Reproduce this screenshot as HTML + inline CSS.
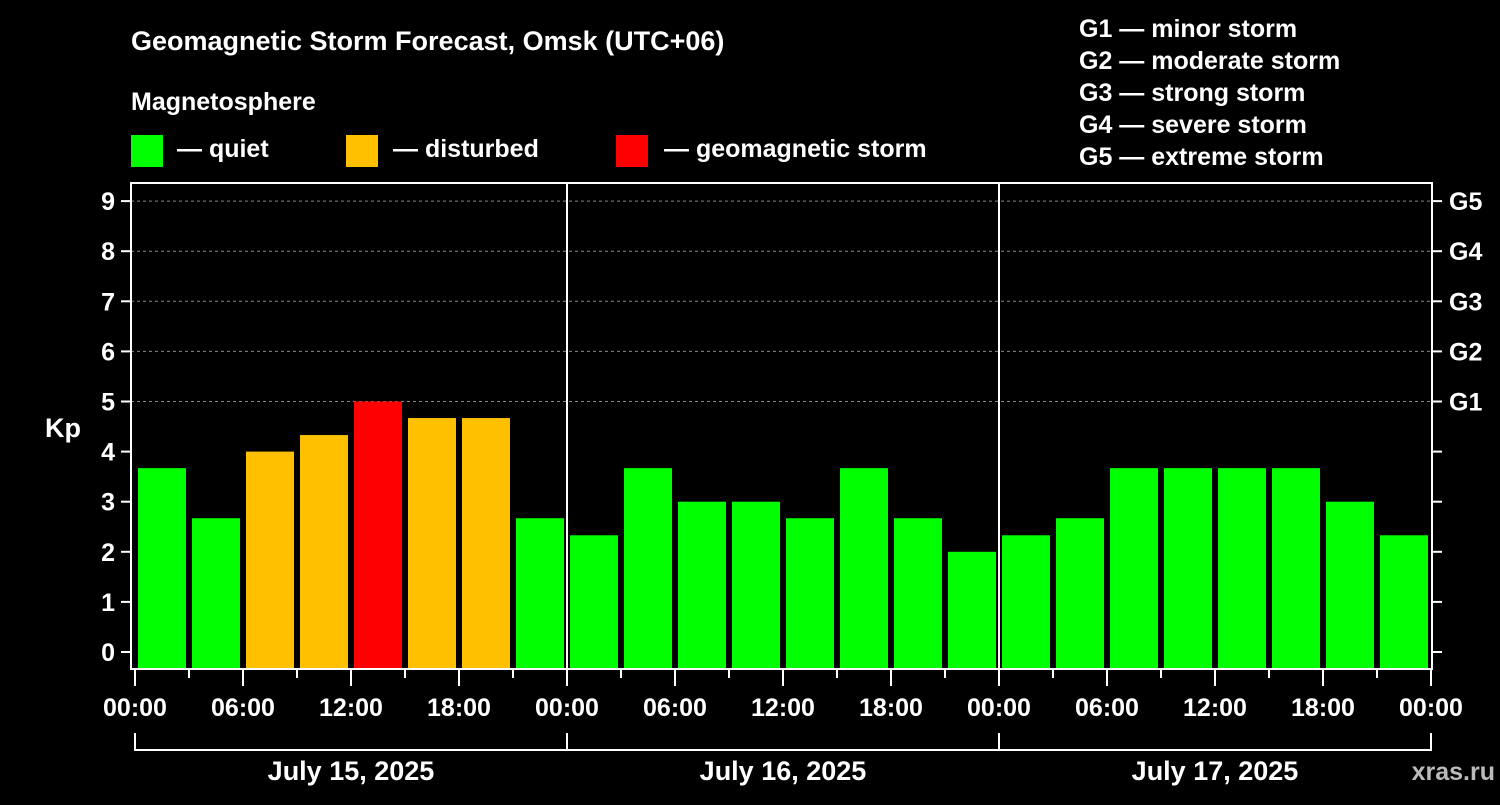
<!DOCTYPE html>
<html><head><meta charset="utf-8"><style>
body{margin:0;background:#000;}
svg text{font-family:"Liberation Sans",Arial,sans-serif;font-weight:bold;fill:#fff;}
</style></head><body>
<svg id="chart" width="1500" height="800" xmlns="http://www.w3.org/2000/svg">
<rect width="1500" height="800" fill="#000"/>
<text x="131" y="50" font-size="27">Geomagnetic Storm Forecast, Omsk (UTC+06)</text>
<text x="131" y="110" font-size="25">Magnetosphere</text>
<g><rect x="131" y="135" width="32" height="32" fill="#00ff00"/><text x="177" y="157" font-size="25">— quiet</text></g>
<g><rect x="346" y="135" width="32" height="32" fill="#ffc000"/><text x="393" y="157" font-size="25">— disturbed</text></g>
<g><rect x="616" y="135" width="32" height="32" fill="#ff0000"/><text x="664" y="157" font-size="25">— geomagnetic storm</text></g>
<g font-size="25">
<text x="1079" y="37">G1 — minor storm</text>
<text x="1079" y="69">G2 — moderate storm</text>
<text x="1079" y="101">G3 — strong storm</text>
<text x="1079" y="133">G4 — severe storm</text>
<text x="1079" y="165">G5 — extreme storm</text>
</g>
<g id="grid"></g><g id="bars"></g><g id="axes"></g>
<text x="63" y="437" font-size="27" text-anchor="middle">Kp</text>
<text x="1495" y="780" font-size="25" text-anchor="end" fill="#bbb" style="fill:#bbb">xras.ru</text>
</svg>
<script>
const days = ["July 15, 2025","July 16, 2025","July 17, 2025"];
const kpValues = [3.67,2.67,4,4.33,5,4.67,4.67,2.67, 2.33,3.67,3,3,2.67,3.67,2.67,2, 2.33,2.67,3.67,3.67,3.67,3.67,3,2.33];
const timeLabels = ["00:00","06:00","12:00","18:00"];
const yTicks = [0,1,2,3,4,5,6,7,8,9];
const gLabels = ["G1","G2","G3","G4","G5"];
const NS="http://www.w3.org/2000/svg";
const X0=135, DAYW=432, BIN=54;
const yS = k => 652 - 50.1*k;
const xS = i => X0 + i*BIN;
function mk(t,a,p){const e=document.createElementNS(NS,t);for(const k in a)e.setAttribute(k,a[k]);p.appendChild(e);return e;}
const grid=document.getElementById('grid'), bars=document.getElementById('bars'), axes=document.getElementById('axes');
[5,6,7,8,9].forEach(k=>{const l=mk('line',{x1:131,x2:1432,y1:yS(k),y2:yS(k),stroke:'#888','stroke-dasharray':'3,3','stroke-width':1},grid);

});
kpValues.forEach((v,i)=>{
 const c = v>=5?'#ff0000':(v>=4?'#ffc000':'#00ff00');
 const r=mk('rect',{x:xS(i)+3,y:yS(v),width:48,height:668-yS(v),fill:c},bars);
 
 
});
mk('rect',{x:131,y:183,width:1301,height:486,fill:'none',stroke:'#fff','stroke-width':2},axes);
[1,2].forEach(d=>mk('line',{x1:X0+d*DAYW,x2:X0+d*DAYW,y1:183,y2:669,stroke:'#fff','stroke-width':2},axes));
yTicks.forEach(k=>{
 mk('line',{x1:121,x2:131,y1:yS(k),y2:yS(k),stroke:'#fff','stroke-width':2},axes);
 mk('line',{x1:1432,x2:1442,y1:yS(k),y2:yS(k),stroke:'#fff','stroke-width':2},axes);
 const t=mk('text',{x:115,y:yS(k)+9,'font-size':25,'text-anchor':'end'},axes);t.textContent=k;
 
 
});
gLabels.forEach((g,i)=>{const t=mk('text',{x:1449,y:yS(5+i)+9,'font-size':25},axes);t.textContent=g;
 
 });
for(let i=0;i<=24;i++){
 const major=i%2===0;
 mk('line',{x1:xS(i),x2:xS(i),y1:669,y2:major?686:678,stroke:'#fff','stroke-width':2},axes);
 if(major && (i/2)%1===0 && i%2===0 && ((i%8)%2===0)){
  const lab=timeLabels[(i%8)/2];
  const t=mk('text',{x:xS(i),y:716,'font-size':25,'text-anchor':'middle'},axes);t.textContent=lab;
  
  
 }
}
days.forEach((d,j)=>{
 const a=X0+j*DAYW,b=a+DAYW;
 mk('path',{d:`M${a},733V750H${b}V733`,fill:'none',stroke:'#fff','stroke-width':2},axes);
 const t=mk('text',{x:(a+b)/2,y:780,'font-size':27,'text-anchor':'middle'},axes);t.textContent=d;
 
 
});
</script>
</body></html>
